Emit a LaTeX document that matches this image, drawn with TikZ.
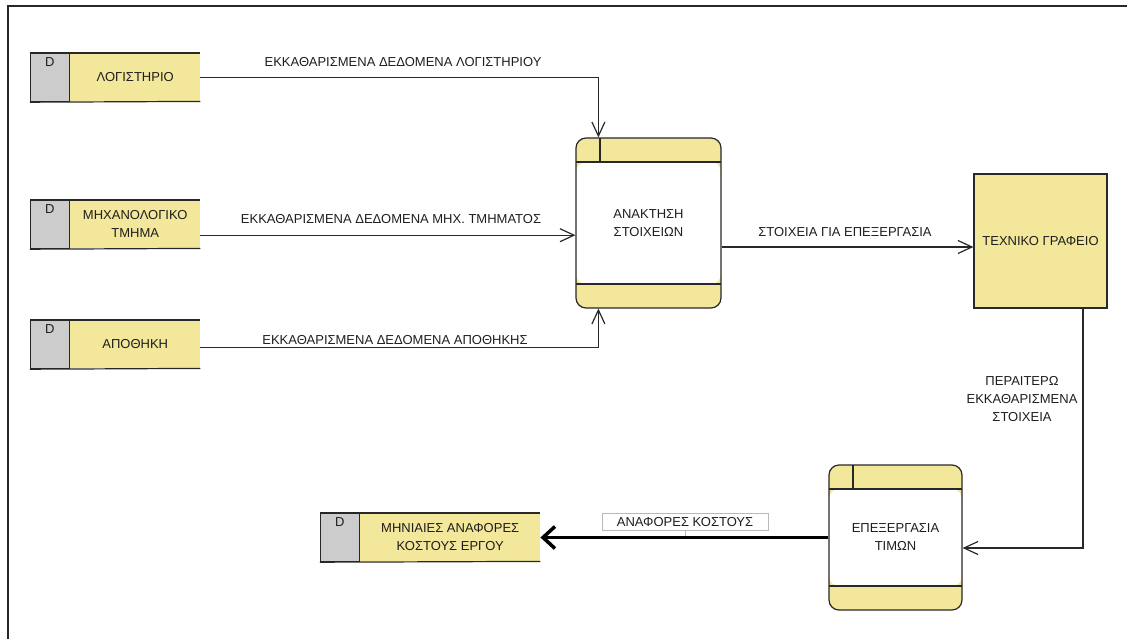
\documentclass[tikz,border=0pt]{standalone}
\usepackage{fontspec}
\setmainfont{Liberation Sans}
\usetikzlibrary{arrows.meta}
\definecolor{yel}{RGB}{242,231,154}
\definecolor{gry}{RGB}{204,204,204}
\definecolor{ln}{RGB}{40,40,40}
\definecolor{tx}{RGB}{30,30,30}
\begin{document}
\begin{tikzpicture}[x=1pt,y=-1pt,
  every node/.style={font=\fontsize{13}{18}\selectfont, text=tx},
  border/.style={draw=ln, line width=1.2pt},
  sbox/.style={fill=yel, minimum height=48pt, inner sep=0pt, align=center},
  dbox/.style={border, fill=gry, minimum width=39pt, minimum height=48pt, inner sep=0pt,
    label={[anchor=north, inner sep=0pt, yshift=-4pt]north:D}},
  proc/.style={border, fill=yel, rounded corners=10pt, inner sep=0pt, align=center,
    path picture={
      \fill[white] ([yshift=-24pt]path picture bounding box.north west) rectangle ([yshift=24pt]path picture bounding box.south east);
      \draw[border] ([yshift=-24pt]path picture bounding box.north west) -- ([yshift=-24pt]path picture bounding box.north east);
      \draw[border] ([yshift=24pt]path picture bounding box.south west) -- ([yshift=24pt]path picture bounding box.south east);
      \draw[border] ([xshift=24pt]path picture bounding box.north west) -- ([xshift=24pt,yshift=-24pt]path picture bounding box.north west);
    }},
  ext/.style={border, fill=yel, inner sep=0pt, align=center},
  flow/.style={draw=ln, line width=1.2pt, -{Straight Barb[length=14pt,width=13pt]}},
  bigflow/.style={draw=black, line width=3.5pt, -{Straight Barb[length=12pt,width=22pt]}},
  flab/.style={inner sep=0pt, align=center}
]
\useasboundingbox (0,0) rectangle (1127,639);
% frame
\draw[line width=2pt, ln] (8,639) -- (8,6) -- (1127,6);

% data stores
\node[sbox, minimum width=130pt, anchor=north west] (s1) at (70,53) {ΛΟΓΙΣΤΗΡΙΟ};
\node[dbox, anchor=north east] (d1) at (s1.north west) {};
\node[sbox, minimum width=130pt, anchor=north west] (s2) at (70,200) {ΜΗΧΑΝΟΛΟΓΙΚΟ\\ΤΜΗΜΑ};
\node[dbox, anchor=north east] (d2) at (s2.north west) {};
\node[sbox, minimum width=130pt, anchor=north west] (s3) at (70,320) {ΑΠΟΘΗΚΗ};
\node[dbox, anchor=north east] (d3) at (s3.north west) {};
\node[sbox, minimum width=180pt, anchor=north west] (s4) at (360,513) {ΜΗΝΙΑΙΕΣ ΑΝΑΦΟΡΕΣ\\ΚΟΣΤΟΥΣ ΕΡΓΟΥ};
\node[dbox, anchor=north east] (d4) at (s4.north west) {};
\foreach \s/\d in {s1/d1, s2/d2, s3/d3, s4/d4}{
  \draw[border] (\d.north west) -- (\s.north east);
  \draw[border] (\d.south west) -- (\s.south east);
}

% processes
\node[proc, minimum width=145pt, minimum height=170pt] (p1) at (648.5,223) {ΑΝΑΚΤΗΣΗ\\ΣΤΟΙΧΕΙΩΝ};
\node[proc, minimum width=133pt, minimum height=145pt] (p2) at (895.5,537.5) {ΕΠΕΞΕΡΓΑΣΙΑ\\ΤΙΜΩΝ};

% external entity
\node[ext, minimum width=133pt, minimum height=134pt] (ext) at (1040.5,241) {ΤΕΧΝΙΚΟ ΓΡΑΦΕΙΟ};

% flows
\draw[flow] (s1.east) -| ([xshift=23pt]p1.north west);
\node[flab] (l1) at (403,62) {ΕΚΚΑΘΑΡΙΣΜΕΝΑ ΔΕΔΟΜΕΝΑ ΛΟΓΙΣΤΗΡΙΟΥ};

\coordinate (c2) at ([yshift=-11pt]s2.east);
\draw[flow] (c2) -- (c2 -| p1.west);
\node[flab] (l2) at (391,219) {ΕΚΚΑΘΑΡΙΣΜΕΝΑ ΔΕΔΟΜΕΝΑ ΜΗΧ. ΤΜΗΜΑΤΟΣ};

\coordinate (c3) at ([yshift=-3pt]s3.east);
\draw[flow] (c3) -| ([xshift=23pt]p1.south west);
\node[flab] (l3) at (395,340) {ΕΚΚΑΘΑΡΙΣΜΕΝΑ ΔΕΔΟΜΕΝΑ ΑΠΟΘΗΚΗΣ};

\coordinate (c4) at ([yshift=-6pt]ext.west);
\draw[flow] (c4 -| p1.east) -- (c4);
\node[flab] (l4) at (845,232) {ΣΤΟΙΧΕΙΑ ΓΙΑ ΕΠΕΞΕΡΓΑΣΙΑ};

\draw[flow] ([xshift=42.5pt]ext.south) |- ([yshift=-10.5pt]p2.east);
\node[flab] (l5) at (1022,399) {ΠΕΡΑΙΤΕΡΩ\\ΕΚΚΑΘΑΡΙΣΜΕΝΑ\\ΣΤΟΙΧΕΙΑ};

\draw[bigflow] (p2.west) -- (p2.west -| s4.east);
\node[draw=gray!55, line width=0.8pt, fill=white, minimum width=166pt, minimum height=17pt, inner sep=0pt] (l6) at (685,522) {ΑΝΑΦΟΡΕΣ ΚΟΣΤΟΥΣ};
\draw[gray!55, line width=0.8pt] (l6.south) -- ++(0,5);
\end{tikzpicture}
\end{document}
